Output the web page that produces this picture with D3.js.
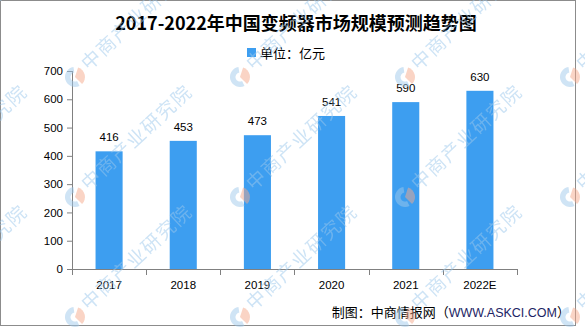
<!DOCTYPE html>
<html>
<head>
<meta charset="utf-8">
<script src="https://cdn.jsdelivr.net/npm/d3@7"></script>
<style>
  body { margin: 0; background: #fff; }
  svg { display: block; }
</style>
</head>
<body>
<div class="chart"></div>
<script>
// chart data
var years = ["2017", "2018", "2019", "2020", "2021", "2022E"];
var values = [416, 453, 473, 541, 590, 630];
var yTicks = [0, 100, 200, 300, 400, 500, 600, 700];

var titleText = "2017-2022年中国变频器市场规模预测趋势图";
var legendText = "单位：亿元";
var wmText = "中商产业研究院";

var svgWidth = 585;
var svgHeight = 327;

var margin = { top: 71, right: 68, bottom: 58, left: 72 };
var width = 517 - margin.left;
var height = 269 - margin.top;

var barColor = "#3d9ef0";
var axisColor = "#808080";
var numFont = "'Liberation Sans', Arial, sans-serif";
var cjkFont = "'Noto Sans CJK SC', sans-serif";

var svg = d3.select(".chart")
  .append("svg")
  .attr("width", svgWidth)
  .attr("height", svgHeight);

// frame
svg.append("rect")
  .attr("x", 0.5).attr("y", 0.5)
  .attr("width", 575).attr("height", 325)
  .attr("fill", "#fff")
  .attr("stroke", "#8c8c8c");

// title
svg.append("text")
  .attr("x", 296).attr("y", 30)
  .attr("text-anchor", "middle")
  .style("font-family", cjkFont)
  .style("font-weight", "bold")
  .style("font-size", "18px")
  .attr("fill", "#000")
  .text(titleText);

// legend
svg.append("rect")
  .attr("x", 247).attr("y", 48)
  .attr("width", 9).attr("height", 9)
  .attr("fill", barColor);
svg.append("text")
  .attr("x", 260).attr("y", 57.5)
  .style("font-family", cjkFont)
  .style("font-size", "13px")
  .attr("fill", "#000")
  .text(legendText);

var chartGroup = svg.append("g")
  .attr("transform", `translate(${margin.left}, ${margin.top})`);

var xScale = d3.scaleBand()
  .domain(years)
  .range([0, width])
  .paddingInner(0.635)
  .paddingOuter(0.3175);

var yScale = d3.scaleLinear()
  .domain([0, 700])
  .range([height, 0]);

// y axis
var leftAxis = d3.axisLeft(yScale)
  .tickValues(yTicks)
  .tickSize(5)
  .tickPadding(4);
var yAxis = chartGroup.append("g").call(leftAxis);
yAxis.select(".domain").attr("stroke", axisColor).attr("d", `M0.5,${height}V0`);
yAxis.selectAll(".tick line").attr("stroke", axisColor);
yAxis.selectAll(".tick text")
  .style("font-family", numFont)
  .style("font-size", "11.5px")
  .attr("fill", "#000");

// bars
chartGroup.selectAll(".bar")
  .data(values)
  .enter()
  .append("rect")
  .attr("class", "bar")
  .attr("x", (d, i) => xScale(years[i]))
  .attr("y", d => yScale(d))
  .attr("width", xScale.bandwidth())
  .attr("height", d => height - yScale(d))
  .attr("fill", barColor);

// value labels
chartGroup.selectAll(".val")
  .data(values)
  .enter()
  .append("text")
  .attr("class", "val")
  .attr("x", (d, i) => xScale(years[i]) + xScale.bandwidth() / 2)
  .attr("y", d => yScale(d) - 10)
  .attr("text-anchor", "middle")
  .style("font-family", numFont)
  .style("font-size", "11.5px")
  .attr("fill", "#000")
  .text(d => d);

// x axis (ticks at band edges)
var xAxisG = chartGroup.append("g")
  .attr("transform", `translate(0, ${height})`);
xAxisG.append("path")
  .attr("d", `M0,0.5H${width}`)
  .attr("stroke", axisColor)
  .attr("fill", "none");
var edges = years.map(y => xScale(y) - xScale.step() * 0.3175).concat([width]);
xAxisG.selectAll(".xt")
  .data(edges)
  .enter()
  .append("line")
  .attr("x1", d => Math.round(d) + 0.5)
  .attr("x2", d => Math.round(d) + 0.5)
  .attr("y1", 0)
  .attr("y2", 6)
  .attr("stroke", axisColor);
xAxisG.selectAll(".xl")
  .data(years)
  .enter()
  .append("text")
  .attr("x", d => xScale(d) + xScale.bandwidth() / 2)
  .attr("y", 20)
  .attr("text-anchor", "middle")
  .style("font-family", numFont)
  .style("font-size", "11.5px")
  .attr("fill", "#000")
  .text(d => d);

// source note
var src = svg.append("text")
  .attr("x", 570).attr("y", 317)
  .attr("text-anchor", "end")
  .style("font-family", cjkFont)
  .style("font-size", "13px")
  .attr("fill", "#000");
src.append("tspan").text("制图：中商情报网（");
src.append("tspan")
  .style("font-family", numFont)
  .style("font-size", "12.5px")
  .attr("fill", "#1c2464")
  .text("WWW.ASKCI.COM");
src.append("tspan").text("）");

// watermarks on top, semi transparent (they run off the edges like the original)
var wm = svg.append("g")
  .attr("opacity", 0.5)
  .style("pointer-events", "none");
var wmX = [-90, 75, 240, 405, 570];
var wmY = [-43, 77, 197, 317];
var arcBlue = d3.arc().innerRadius(4.5).outerRadius(10).startAngle(Math.PI * 0.85).endAngle(Math.PI * 1.95);
var arcOrange = d3.arc().innerRadius(0).outerRadius(10).startAngle(Math.PI * 0.1).endAngle(Math.PI * 0.75);
wmX.forEach(function(x) {
  wmY.forEach(function(y) {
    var g = wm.append("g").attr("transform", `translate(${x}, ${y})`);
    g.append("path").attr("d", arcBlue()).attr("fill", "#9fc8ea");
    g.append("path").attr("d", arcOrange()).attr("fill", "#f5a98a");
    g.append("text")
      .attr("transform", "translate(8, -12) rotate(-43)")
      .attr("dominant-baseline", "central")
      .style("font-family", cjkFont)
      .style("font-size", "19px")
      .style("letter-spacing", "1.5px")
      .attr("fill", "#9cc8ec")
      .text(wmText);
  });
});
</script>
</body>
</html>
